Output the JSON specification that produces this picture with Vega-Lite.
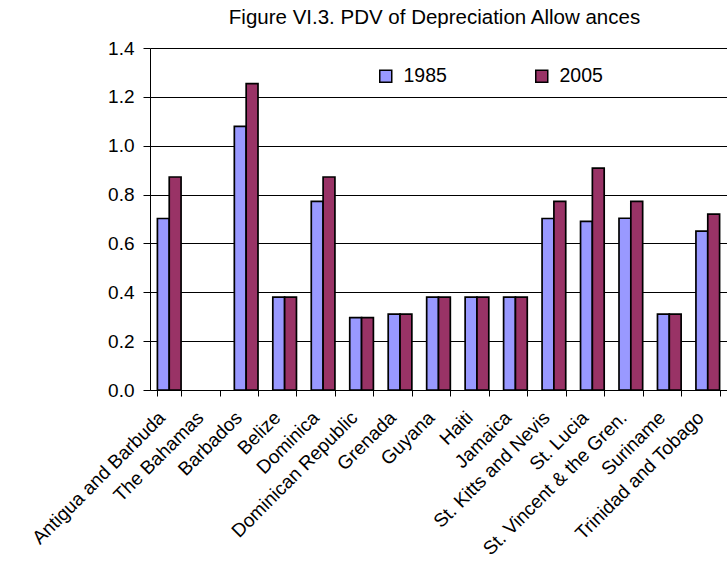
{
  "$schema": "https://vega.github.io/schema/vega-lite/v6.json",
  "autosize": "none",
  "padding": {"left": 150, "top": 48, "right": 0, "bottom": 181},
  "width": 577,
  "height": 342,
  "background": "white",
  "title": {"text": "Figure VI.3. PDV of Depreciation Allow ances", "font": "Liberation Sans", "fontSize": 20.5, "fontWeight": "normal", "color": "black", "anchor": "middle", "dx": -4, "offset": 11},
  "data": {"values": [
    {"country": "Antigua and Barbuda", "year": "1985", "value": 0.702},
    {"country": "Antigua and Barbuda", "year": "2005", "value": 0.872},
    {"country": "Barbados", "year": "1985", "value": 1.079},
    {"country": "Barbados", "year": "2005", "value": 1.254},
    {"country": "Belize", "year": "1985", "value": 0.38},
    {"country": "Belize", "year": "2005", "value": 0.38},
    {"country": "Dominica", "year": "1985", "value": 0.772},
    {"country": "Dominica", "year": "2005", "value": 0.872},
    {"country": "Dominican Republic", "year": "1985", "value": 0.296},
    {"country": "Dominican Republic", "year": "2005", "value": 0.296},
    {"country": "Grenada", "year": "1985", "value": 0.311},
    {"country": "Grenada", "year": "2005", "value": 0.311},
    {"country": "Guyana", "year": "1985", "value": 0.38},
    {"country": "Guyana", "year": "2005", "value": 0.38},
    {"country": "Haiti", "year": "1985", "value": 0.38},
    {"country": "Haiti", "year": "2005", "value": 0.38},
    {"country": "Jamaica", "year": "1985", "value": 0.38},
    {"country": "Jamaica", "year": "2005", "value": 0.38},
    {"country": "St. Kitts and Nevis", "year": "1985", "value": 0.702},
    {"country": "St. Kitts and Nevis", "year": "2005", "value": 0.772},
    {"country": "St. Lucia", "year": "1985", "value": 0.69},
    {"country": "St. Lucia", "year": "2005", "value": 0.908},
    {"country": "St. Vincent & the Gren.", "year": "1985", "value": 0.703},
    {"country": "St. Vincent & the Gren.", "year": "2005", "value": 0.772},
    {"country": "Suriname", "year": "1985", "value": 0.311},
    {"country": "Suriname", "year": "2005", "value": 0.311},
    {"country": "Trinidad and Tobago", "year": "1985", "value": 0.65},
    {"country": "Trinidad and Tobago", "year": "2005", "value": 0.72}
  ]},
  "mark": {"type": "bar", "stroke": "black", "strokeWidth": 1.7},
  "encoding": {
    "x": {
      "field": "country", "type": "nominal", "title": null,
      "scale": {"domain": ["Antigua and Barbuda", "The Bahamas", "Barbados", "Belize", "Dominica", "Dominican Republic", "Grenada", "Guyana", "Haiti", "Jamaica", "St. Kitts and Nevis", "St. Lucia", "St. Vincent & the Gren.", "Suriname", "Trinidad and Tobago"], "paddingInner": 0.385, "paddingOuter": 0.1925},
      "axis": {"labelAngle": -45, "labelFont": "Liberation Sans", "labelFontSize": 19, "labelColor": "black", "domainColor": "black", "tickColor": "black", "tickBand": "extent", "tickSize": 6, "labelPadding": 12, "labelOffset": -14, "labelLimit": 400, "grid": false, "labelOverlap": false}
    },
    "xOffset": {"field": "year", "type": "nominal", "scale": {"paddingInner": 0, "paddingOuter": 0}},
    "y": {
      "field": "value", "type": "quantitative", "title": null,
      "scale": {"domain": [0, 1.4], "nice": false},
      "axis": {"values": [0, 0.2, 0.4, 0.6, 0.8, 1.0, 1.2, 1.4], "format": ".1f", "labelFont": "Liberation Sans", "labelFontSize": 19, "labelColor": "black", "domainColor": "black", "tickColor": "black", "tickSize": 7, "gridColor": "black", "gridOpacity": 1, "labelPadding": 9}
    },
    "color": {
      "field": "year", "type": "nominal", "title": null,
      "scale": {"domain": ["1985", "2005"], "range": ["#9999FF", "#993366"]},
      "legend": {"orient": "none", "legendX": 226, "legendY": 18, "padding": 0, "direction": "horizontal", "symbolType": "square", "symbolSize": 144, "symbolStrokeColor": "black", "symbolStrokeWidth": 1.5, "symbolOpacity": 1, "labelFont": "Liberation Sans", "labelFontSize": 19.5, "labelColor": "black", "columnPadding": 85, "labelOffset": 8}
    }
  },
  "config": {"view": {"stroke": null}, "axis": {"domainWidth": 1, "tickWidth": 1}}
}
